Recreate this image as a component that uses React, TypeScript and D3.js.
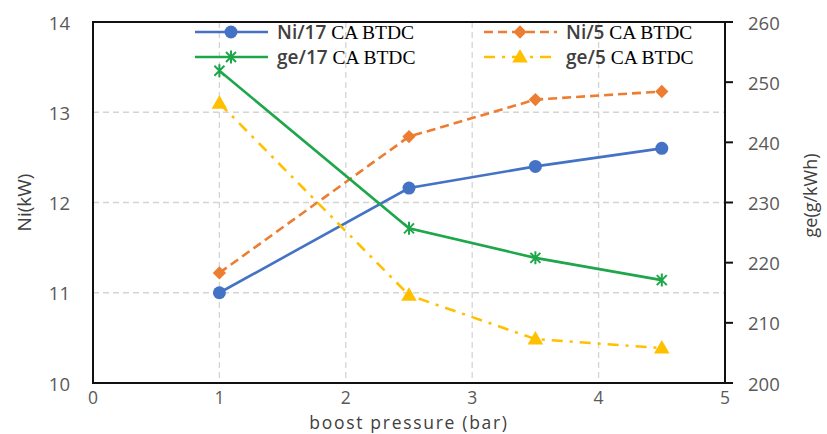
import React, { useEffect, useRef } from "react";
import * as d3 from "d3";

// chart data
const pressure = [1, 2.5, 3.5, 4.5];
const ni17 = [11.0, 12.16, 12.4, 12.6];
const ni5 = [11.22, 12.73, 13.14, 13.23];
const ge17 = [251.9, 225.7, 220.8, 217.1];
const ge5 = [246.5, 214.6, 207.3, 205.8];

const xTicks = [0, 1, 2, 3, 4, 5];
const niTicks = [10, 11, 12, 13, 14];
const geTicks = [200, 210, 220, 230, 240, 250, 260];

const W = 827;
const H = 434;
const margin = { top: 22, right: 102, bottom: 51, left: 93 };

const sans = "'Open Sans', 'DejaVu Sans', sans-serif";
const serif = "'Liberation Serif', 'DejaVu Serif', serif";

type Series = {
  label: string;
  values: number[];
  axis: "ni" | "ge";
  color: string;
  dash: string | null;
  marker: "circle" | "diamond" | "star" | "triangle";
};

const series: Series[] = [
  { label: "Ni/17", values: ni17, axis: "ni", color: "#4472C4", dash: null, marker: "circle" },
  { label: "Ni/5", values: ni5, axis: "ni", color: "#ED7D31", dash: "9,5", marker: "diamond" },
  { label: "ge/17", values: ge17, axis: "ge", color: "#1EA64A", dash: null, marker: "star" },
  { label: "ge/5", values: ge5, axis: "ge", color: "#FFC000", dash: "11,7,3,7", marker: "triangle" },
];

// where each legend entry sits (line start, row)
const legendPos: Record<string, [number, number]> = {
  "Ni/17": [195, 32],
  "ge/17": [195, 57],
  "Ni/5": [484, 32],
  "ge/5": [484, 57],
};

function addMarker(g: d3.Selection<SVGGElement, unknown, null, undefined>, s: Series, cx: number, cy: number) {
  if (s.marker === "circle") {
    g.append("circle").attr("cx", cx).attr("cy", cy).attr("r", 6.5).attr("fill", s.color);
  } else if (s.marker === "diamond") {
    g.append("path")
      .attr("d", d3.symbol(d3.symbolSquare, 88)())
      .attr("transform", `translate(${cx},${cy}) rotate(45)`)
      .attr("fill", s.color);
  } else if (s.marker === "triangle") {
    g.append("path")
      .attr("d", d3.symbol(d3.symbolTriangle, 105)())
      .attr("transform", `translate(${cx},${cy + 1})`)
      .attr("fill", s.color);
  } else {
    g.append("path")
      .attr("d", "M-5,-5L5,5M-5,5L5,-5M0,-6.5L0,6.5")
      .attr("transform", `translate(${cx},${cy})`)
      .attr("stroke", s.color)
      .attr("stroke-width", 2)
      .attr("fill", "none");
  }
}

function drawChart(node: SVGSVGElement) {
  const svg = d3.select(node);
  svg.selectAll("*").remove();

  const x = d3.scaleLinear().domain([0, 5]).range([margin.left, W - margin.right]);
  const yNi = d3.scaleLinear().domain([10, 14]).range([H - margin.bottom, margin.top]);
  const yGe = d3.scaleLinear().domain([200, 260]).range([H - margin.bottom, margin.top]);

  // grid lines
  const grid = svg.append("g").attr("stroke", "#d4d4d4").attr("stroke-width", 1.3).attr("stroke-dasharray", "6,4");
  grid
    .selectAll("line.h")
    .data(niTicks.slice(1, -1))
    .enter()
    .append("line")
    .attr("x1", x(0))
    .attr("x2", x(5))
    .attr("y1", (d) => yNi(d))
    .attr("y2", (d) => yNi(d));
  grid
    .selectAll("line.v")
    .data(xTicks.slice(1, -1))
    .enter()
    .append("line")
    .attr("x1", (d) => x(d))
    .attr("x2", (d) => x(d))
    .attr("y1", yNi(14))
    .attr("y2", yNi(10));

  // plot frame
  svg
    .append("rect")
    .attr("x", x(0))
    .attr("y", yNi(14))
    .attr("width", x(5) - x(0))
    .attr("height", yNi(10) - yNi(14))
    .attr("fill", "none")
    .attr("stroke", "#111")
    .attr("stroke-width", 2);

  // right axis ticks
  svg
    .append("g")
    .selectAll("line")
    .data(geTicks)
    .enter()
    .append("line")
    .attr("x1", x(5))
    .attr("x2", x(5) + 8)
    .attr("y1", (d) => yGe(d))
    .attr("y2", (d) => yGe(d))
    .attr("stroke", "#111")
    .attr("stroke-width", 2);

  // tick labels
  const tickStyle = (sel: any) =>
    sel.attr("font-family", sans).attr("font-size", 18.5).attr("fill", "#595959").attr("dominant-baseline", "central");

  svg
    .append("g")
    .selectAll("text")
    .data(niTicks)
    .enter()
    .append("text")
    .attr("x", 70)
    .attr("y", (d) => yNi(d))
    .attr("text-anchor", "end")
    .text((d) => d)
    .call(tickStyle);

  svg
    .append("g")
    .selectAll("text")
    .data(geTicks)
    .enter()
    .append("text")
    .attr("x", 748)
    .attr("y", (d) => yGe(d))
    .attr("text-anchor", "start")
    .text((d) => d)
    .call(tickStyle);

  svg
    .append("g")
    .selectAll("text")
    .data(xTicks)
    .enter()
    .append("text")
    .attr("x", (d) => x(d))
    .attr("y", 397)
    .attr("text-anchor", "middle")
    .text((d) => d)
    .call(tickStyle)
    .attr("font-size", 17.5);

  // axis titles
  svg
    .append("text")
    .attr("x", (x(0) + x(5)) / 2)
    .attr("y", 428.5)
    .attr("text-anchor", "middle")
    .attr("font-family", sans)
    .attr("font-size", 17.5)
    .attr("letter-spacing", 1.7)
    .attr("fill", "#404040")
    .text("boost pressure (bar)");

  svg
    .append("text")
    .attr("transform", `translate(31,${(yNi(10) + yNi(14)) / 2}) rotate(-90)`)
    .attr("text-anchor", "middle")
    .attr("font-family", sans)
    .attr("font-size", 19)
    .attr("fill", "#404040")
    .text("Ni(kW)");

  svg
    .append("text")
    .attr("transform", `translate(817,${(yGe(200) + yGe(260)) / 2 - 7}) rotate(-90)`)
    .attr("text-anchor", "middle")
    .attr("font-family", sans)
    .attr("font-size", 18)
    .attr("fill", "#404040")
    .text("ge(g/kWh)");

  // series lines and markers
  series.forEach((s) => {
    const y = s.axis === "ni" ? yNi : yGe;
    const line = d3
      .line<number>()
      .x((d, i) => x(pressure[i]))
      .y((d) => y(d));
    const g = svg.append("g");
    g.append("path")
      .attr("d", line(s.values))
      .attr("fill", "none")
      .attr("stroke", s.color)
      .attr("stroke-width", 2.6)
      .attr("stroke-dasharray", s.dash);
    s.values.forEach((v, i) => addMarker(g, s, x(pressure[i]), y(v)));
  });

  // legend
  series.forEach((s) => {
    const [lx, ly] = legendPos[s.label];
    const g = svg.append("g");
    g.append("line")
      .attr("x1", lx)
      .attr("x2", lx + 73)
      .attr("y1", ly)
      .attr("y2", ly)
      .attr("stroke", s.color)
      .attr("stroke-width", 2.6)
      .attr("stroke-dasharray", s.dash);
    addMarker(g, s, lx + 36, ly);
    const t = g.append("text").attr("x", lx + 82).attr("y", ly + 7);
    t.append("tspan")
      .attr("font-family", sans)
      .attr("font-weight", 600)
      .attr("font-size", 19)
      .attr("fill", "#404040")
      .text(s.label);
    t.append("tspan")
      .attr("font-family", serif)
      .attr("font-size", 19.5)
      .attr("fill", "#000")
      .text(" CA BTDC");
  });
}

export default function App() {
  const svgRef = useRef<SVGSVGElement>(null);

  useEffect(() => {
    if (svgRef.current) drawChart(svgRef.current);
  }, []);

  return (
    <svg
      ref={svgRef}
      width={W}
      height={H}
      style={{ position: "absolute", left: 0, top: 0, background: "#fff" }}
    ></svg>
  );
}
